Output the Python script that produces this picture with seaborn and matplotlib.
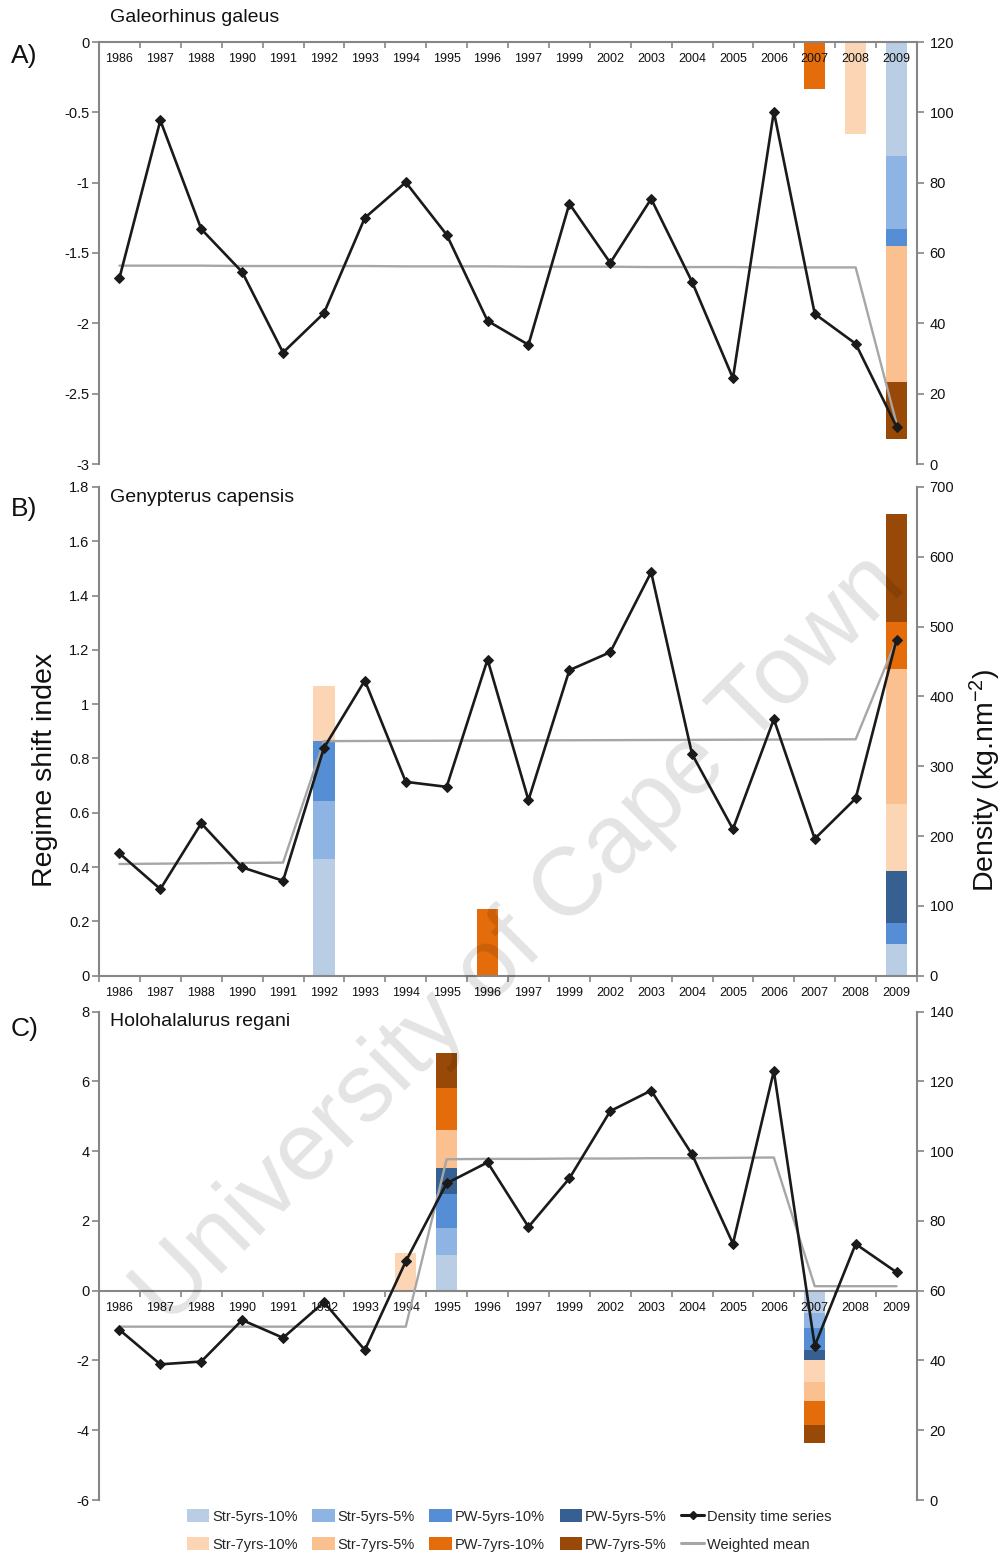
import numpy as np
import matplotlib
matplotlib.use("Agg")
import matplotlib.pyplot as plt
from matplotlib.patches import Patch
from matplotlib.lines import Line2D
from matplotlib.ticker import FixedLocator, FuncFormatter
import seaborn as sns

# ---------------------------------------------------------------- data
years = ["1986", "1987", "1988", "1990", "1991", "1992", "1993", "1994", "1995", "1996",
         "1997", "1999", "2002", "2003", "2004", "2005", "2006", "2007", "2008", "2009"]

methods = ["Str-5yrs-10%", "Str-5yrs-5%", "PW-5yrs-10%", "PW-5yrs-5%",
           "Str-7yrs-10%", "Str-7yrs-5%", "PW-7yrs-10%", "PW-7yrs-5%"]
method_colors = ["#b9cde5", "#8eb4e3", "#558ed5", "#376092",
                 "#fcd5b5", "#fac090", "#e46c0a", "#984807"]

# Regime shift index per detected year, one value per method (stacked in method order)
rsi_galeus = {
    "2007": [0, 0, 0, 0, 0, 0, -0.333, 0],
    "2008": [0, 0, 0, 0, -0.653, 0, 0, 0],
    "2009": [-0.807, -0.520, -0.121, 0, 0, -0.967, 0, -0.410],
}
rsi_capensis = {
    "1992": [0.430, 0.213, 0.221, 0, 0.202, 0, 0, 0],
    "1996": [0, 0, 0, 0, 0, 0, 0.244, 0],
    "2009": [0.115, 0, 0.079, 0.191, 0.247, 0.497, 0.173, 0.397],
}
rsi_regani = {
    "1994": [0, 0, 0, 0, 1.08, 0, 0, 0],
    "1995": [1.02, 0.79, 0.95, 0.76, 0, 1.08, 1.21, 1.01],
    "2007": [-0.63, -0.43, -0.63, -0.31, -0.63, -0.54, -0.69, -0.52],
}

# Density (kg.nm-2) time series
density_galeus = [52.9, 97.7, 66.8, 54.6, 31.7, 42.9, 70.0, 80.1, 65.2, 40.7,
                  33.9, 74.0, 57.2, 75.4, 51.8, 24.4, 100.2, 42.7, 34.2, 10.6]
density_capensis = [175.2, 124.1, 218.2, 155.2, 136.0, 326.4, 422.8, 277.7, 270.5, 452.9,
                    251.5, 437.6, 463.4, 577.9, 317.4, 210.0, 367.4, 196.1, 253.9, 481.5]
density_regani = [48.8, 38.9, 39.7, 51.6, 46.5, 56.7, 43.0, 68.4, 90.8, 96.8,
                  78.3, 92.2, 111.5, 117.4, 99.1, 73.5, 123.0, 44.2, 73.4, 65.3]

# Weighted regime means
wmean_galeus = [56.4, 56.4, 56.4, 56.3, 56.3, 56.3, 56.3, 56.2, 56.2, 56.2,
                56.1, 56.1, 56.1, 56.0, 56.0, 56.0, 55.9, 55.9, 55.9, 11.5]
wmean_capensis = [160.0, 160.5, 161.0, 161.5, 162.0, 336.0, 336.2, 336.4, 336.6, 336.8,
                  337.0, 337.2, 337.4, 337.6, 337.8, 338.0, 338.2, 338.4, 338.6, 481.5]
wmean_regani = [49.7, 49.7, 49.7, 49.7, 49.7, 49.7, 49.7, 49.7, 97.7, 97.8,
                97.8, 97.9, 97.9, 98.0, 98.0, 98.1, 98.2, 61.3, 61.3, 61.3]

left_ticks_a = [0, -0.5, -1, -1.5, -2, -2.5, -3]
left_ticks_b = [0, 0.2, 0.4, 0.6, 0.8, 1, 1.2, 1.4, 1.6, 1.8]
left_ticks_c = [-6, -4, -2, 0, 2, 4, 6, 8]
right_ticks_a = [0, 20, 40, 60, 80, 100, 120]
right_ticks_b = [0, 100, 200, 300, 400, 500, 600, 700]
right_ticks_c = [0, 20, 40, 60, 80, 100, 120, 140]

# ---------------------------------------------------------------- style
sns.set_theme(style="white")
plt.rcParams["font.family"] = ["Liberation Sans", "DejaVu Sans"]
plt.rcParams["axes.unicode_minus"] = False
plt.rcParams["mathtext.fontset"] = "custom"
plt.rcParams["mathtext.rm"] = "Liberation Sans"
plt.rcParams["mathtext.default"] = "regular"

SPINE = "#868686"
LINE = "#1a1a1a"
MEAN = "#a6a6a6"
W, H = 1001, 1556

fig = plt.figure(figsize=(W / 100, H / 100), dpi=100)

panels = [
    dict(letter="A)", title="Galeorhinus galeus", rsi=rsi_galeus,
         dens=density_galeus, wmean=wmean_galeus,
         lticks=left_ticks_a, rticks=right_ticks_a, top=42, bottom=464,
         title_y=18, letter_y=56),
    dict(letter="B)", title="Genypterus capensis", rsi=rsi_capensis,
         dens=density_capensis, wmean=wmean_capensis,
         lticks=left_ticks_b, rticks=right_ticks_b, top=487, bottom=975.7,
         title_y=497, letter_y=509),
    dict(letter="C)", title="Holohalalurus regani", rsi=rsi_regani,
         dens=density_regani, wmean=wmean_regani,
         lticks=left_ticks_c, rticks=right_ticks_c, top=1011.7, bottom=1500,
         title_y=1022, letter_y=1029),
]

x_left, x_right = 99.0, 917.0
pos = np.arange(len(years))
fmt = FuncFormatter(lambda v, _: f"{v:g}")

for p in panels:
    rect = [x_left / W, 1 - p["bottom"] / H, (x_right - x_left) / W,
            (p["bottom"] - p["top"]) / H]
    ax = fig.add_axes(rect)
    ax2 = ax.twinx()

    # stacked regime-shift bars on the left axis (drawn beneath the year labels)
    for yr, vals in p["rsi"].items():
        i = years.index(yr)
        base = 0.0
        for k, v in enumerate(vals):
            if v == 0:
                continue
            ax.bar(pos[i], v, bottom=base, width=0.52, color=method_colors[k],
                   linewidth=0, zorder=1)
            base += v
    ax.set_axisbelow(False)

    lt = p["lticks"]
    ax.set_ylim(min(lt), max(lt))
    ax.set_yticks(lt)
    ax.yaxis.set_major_formatter(fmt)
    ax.set_xlim(-0.5, len(years) - 0.5)
    ax.set_xticks(pos)
    ax.set_xticklabels(years)
    ax.xaxis.set_minor_locator(FixedLocator(np.arange(-0.5, len(years), 1.0)))
    ax.spines["bottom"].set_position(("data", 0))
    for s in ("top", "right"):
        ax.spines[s].set_visible(False)
    for s in ("left", "bottom"):
        ax.spines[s].set_color(SPINE)
        ax.spines[s].set_linewidth(1.5)
    ax.tick_params(axis="x", which="major", length=0, pad=8, labelsize=9,
                   labelcolor="#111111", bottom=True)
    ax.tick_params(axis="x", which="minor", length=4, width=1.2, color=SPINE,
                   direction="out", bottom=True)
    ax.tick_params(axis="y", which="major", length=5, width=1.2, color=SPINE,
                   direction="out", left=True, labelsize=10.5, pad=2,
                   labelcolor="#111111")
    ax.grid(False)

    # density series and weighted mean on the right axis
    sns.lineplot(x=pos, y=p["wmean"], ax=ax2, color=MEAN, linewidth=1.7,
                 zorder=3, legend=False)
    sns.lineplot(x=pos, y=p["dens"], ax=ax2, color=LINE, linewidth=1.9,
                 marker="D", markersize=5, markeredgecolor=LINE,
                 markerfacecolor=LINE, zorder=4, legend=False)
    rt = p["rticks"]
    ax2.set_ylim(min(rt), max(rt))
    ax2.set_yticks(rt)
    ax2.yaxis.set_major_formatter(fmt)
    ax2.set_xlim(-0.5, len(years) - 0.5)
    for s in ("top", "left", "bottom"):
        ax2.spines[s].set_visible(False)
    ax2.spines["right"].set_color(SPINE)
    ax2.spines["right"].set_linewidth(1.5)
    ax2.tick_params(axis="y", which="major", length=5, width=1.2, color=SPINE,
                    direction="out", right=True, labelsize=10.5, pad=4,
                    labelcolor="#111111")
    ax2.set_ylabel("")
    ax2.grid(False)

    fig.text(110 / W, 1 - p["title_y"] / H, p["title"], fontsize=14,
             va="center", ha="left", color="#111111")
    fig.text(11 / W, 1 - p["letter_y"] / H, p["letter"], fontsize=19,
             va="center", ha="left", color="#111111",
             family=["Liberation Sans Narrow", "Liberation Sans"])

fig.text(45 / W, 1 - 770 / H, "Regime shift index", rotation=90, fontsize=20.5,
         va="center", ha="center", color="#111111")
fig.text(985 / W, 1 - 780 / H, r"Density (kg.nm$^{-2}$)", rotation=90,
         fontsize=20.5, va="center", ha="center", color="#111111")

# legend (column-major order so rows read as in the key)
handles, labels = [], []
for k in range(4):
    for j in (k, k + 4):
        handles.append(Patch(facecolor=method_colors[j], edgecolor="none"))
        labels.append(methods[j])
handles.append(Line2D([], [], color=LINE, lw=2.2, marker="D", markersize=4))
labels.append("Density time series")
handles.append(Line2D([], [], color=MEAN, lw=2.2))
labels.append("Weighted mean")
fig.legend(handles, labels, ncol=5, loc="center", bbox_to_anchor=(509 / W, 1 - 1530.5 / H),
           frameon=False, fontsize=10.5, handlelength=1.55, handleheight=1.0,
           handletextpad=0.2, columnspacing=1.0, labelspacing=0.95,
           borderpad=0, borderaxespad=0)

# diagonal watermark
fig.text(520 / W, 1 - 940 / H, "University of Cape Town", rotation=45,
         rotation_mode="anchor", fontsize=70, color="#000000", alpha=0.11,
         ha="center", va="center", zorder=20)

fig.savefig("out.png", dpi=100)
